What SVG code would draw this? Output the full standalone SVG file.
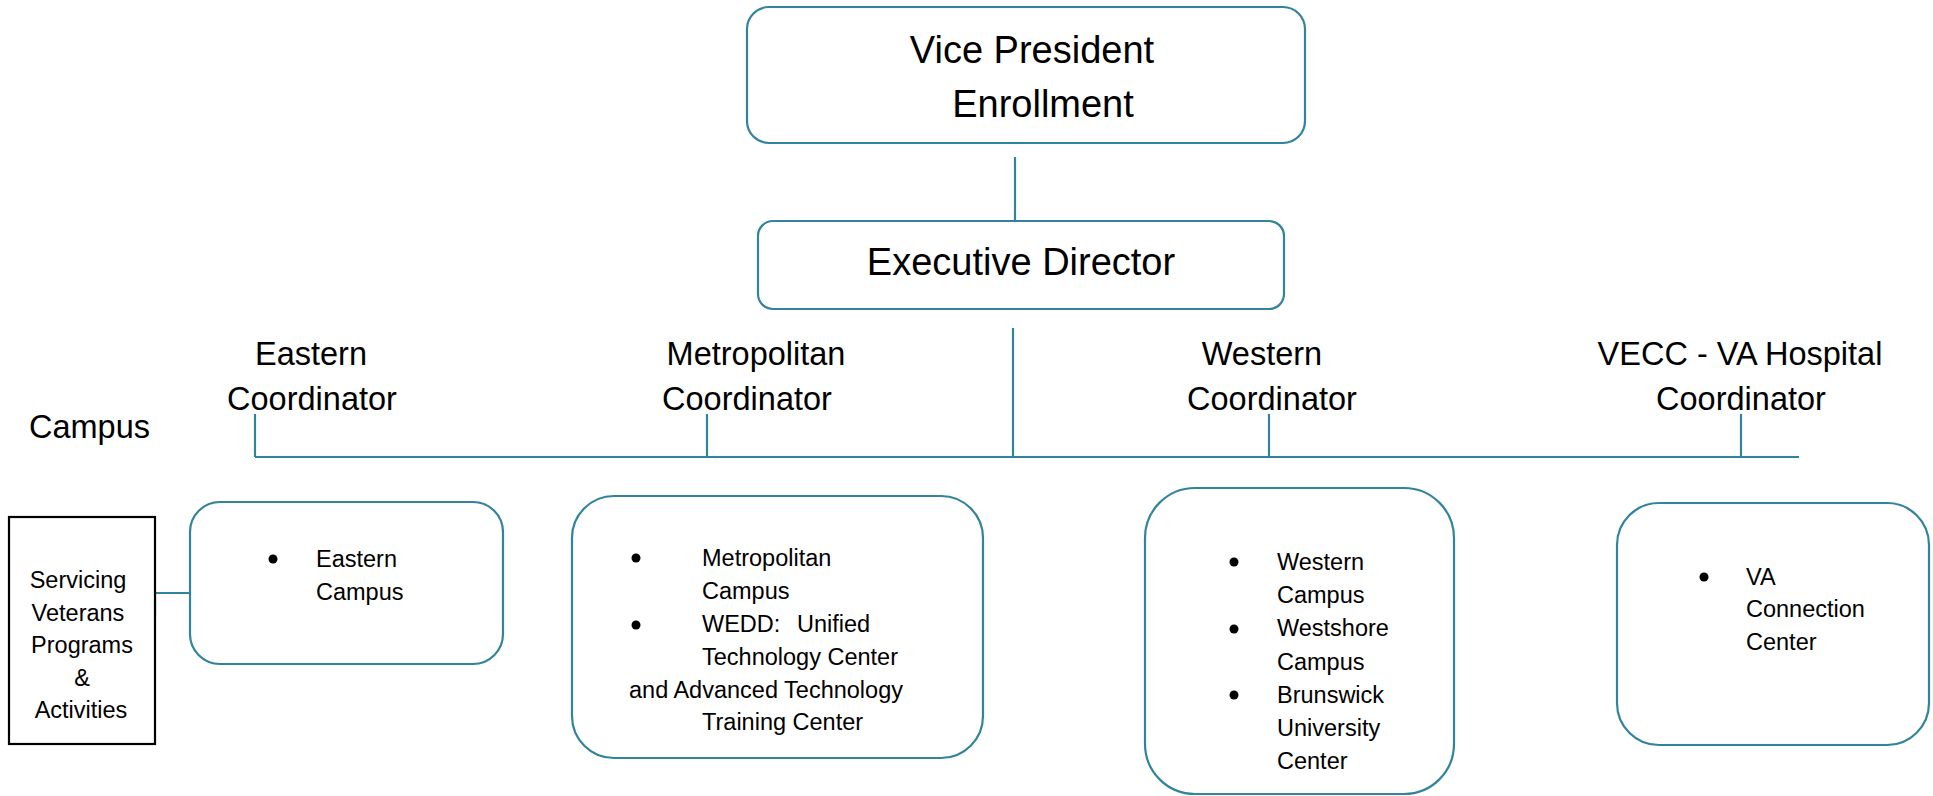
<svg xmlns="http://www.w3.org/2000/svg" width="1933" height="796" viewBox="0 0 1933 796">
<style>
text{font-family:"Liberation Sans",Arial,sans-serif;fill:#000}
.big{font-size:38px}
.hd{font-size:32.5px;text-anchor:middle}
.sm{font-size:23.5px}
.ctr{text-anchor:middle}
.box{fill:#fff;stroke:#31849B;stroke-width:2.2}
.ln{fill:none;stroke:#31849B;stroke-width:2.2}
.bul{fill:#000}
</style>
<rect width="1933" height="796" fill="#fff"/>
<g id="connectors">
<path class="ln" d="M1015,157 V221"/>
<path class="ln" d="M1013,328 V457"/>
<path class="ln" d="M255,457 H1799" stroke-width="3"/>
<path class="ln" d="M255,414 V457"/>
<path class="ln" d="M707,414 V457"/>
<path class="ln" d="M1269,414 V457"/>
<path class="ln" d="M1741,414 V457"/>
<path class="ln" d="M190,593 H155 V617"/>
</g>
<g id="vp">
<rect class="box" x="747" y="7" width="558" height="136" rx="22"/>
<text class="big ctr" x="1032" y="63">Vice President</text>
<text class="big ctr" x="1043" y="117">Enrollment</text>
</g>
<g id="ed">
<rect class="box" x="758" y="221" width="526" height="88" rx="15"/>
<text class="big ctr" x="1021" y="275">Executive Director</text>
</g>
<g id="campus-label">
<text class="hd" x="29" y="438" style="text-anchor:start">Campus</text>
</g>
<g id="eastern-coord">
<text class="hd" x="311" y="365">Eastern</text>
<text class="hd" x="312" y="410">Coordinator</text>
</g>
<g id="metro-coord">
<text class="hd" x="756" y="365">Metropolitan</text>
<text class="hd" x="747" y="410">Coordinator</text>
</g>
<g id="western-coord">
<text class="hd" x="1262" y="365">Western</text>
<text class="hd" x="1272" y="410">Coordinator</text>
</g>
<g id="vecc-coord">
<text class="hd" x="1740" y="365">VECC - VA Hospital</text>
<text class="hd" x="1741" y="410">Coordinator</text>
</g>
<g id="servicing">
<rect x="9" y="517" width="146" height="227" fill="#fff" stroke="#000" stroke-width="2.2"/>
<text class="sm ctr" x="78" y="588">Servicing</text>
<text class="sm ctr" x="78" y="621">Veterans</text>
<text class="sm ctr" x="82" y="653">Programs</text>
<text class="sm ctr" x="82" y="686">&amp;</text>
<text class="sm ctr" x="81" y="718">Activities</text>
</g>
<g id="eastern-campus">
<rect class="box" x="190" y="502" width="313" height="162" rx="30"/>
<circle class="bul" cx="273" cy="559" r="4.5"/>
<text class="sm" x="316" y="567">Eastern</text>
<text class="sm" x="316" y="600">Campus</text>
</g>
<g id="metro-campus">
<rect class="box" x="572" y="496" width="411" height="262" rx="42"/>
<circle class="bul" cx="636" cy="558" r="4.5"/>
<circle class="bul" cx="636" cy="625" r="4.5"/>
<text class="sm" x="702" y="566">Metropolitan</text>
<text class="sm" x="702" y="599">Campus</text>
<text class="sm" y="632"><tspan x="702">WEDD:</tspan><tspan x="797">Unified</tspan></text>
<text class="sm" x="702" y="665">Technology Center</text>
<text class="sm" x="629" y="698">and Advanced Technology</text>
<text class="sm" x="702" y="730">Training Center</text>
</g>
<g id="western-campus">
<rect class="box" x="1145" y="488" width="309" height="306" rx="50"/>
<circle class="bul" cx="1234" cy="562" r="4.5"/>
<circle class="bul" cx="1234" cy="629" r="4.5"/>
<circle class="bul" cx="1234" cy="695" r="4.5"/>
<text class="sm" x="1277" y="570">Western</text>
<text class="sm" x="1277" y="603">Campus</text>
<text class="sm" x="1277" y="636">Westshore</text>
<text class="sm" x="1277" y="670">Campus</text>
<text class="sm" x="1277" y="703">Brunswick</text>
<text class="sm" x="1277" y="736">University</text>
<text class="sm" x="1277" y="769">Center</text>
</g>
<g id="va-center">
<rect class="box" x="1617" y="503" width="312" height="242" rx="42"/>
<circle class="bul" cx="1704" cy="577" r="4.5"/>
<text class="sm" x="1746" y="585">VA</text>
<text class="sm" x="1746" y="617">Connection</text>
<text class="sm" x="1746" y="650">Center</text>
</g>
</svg>
